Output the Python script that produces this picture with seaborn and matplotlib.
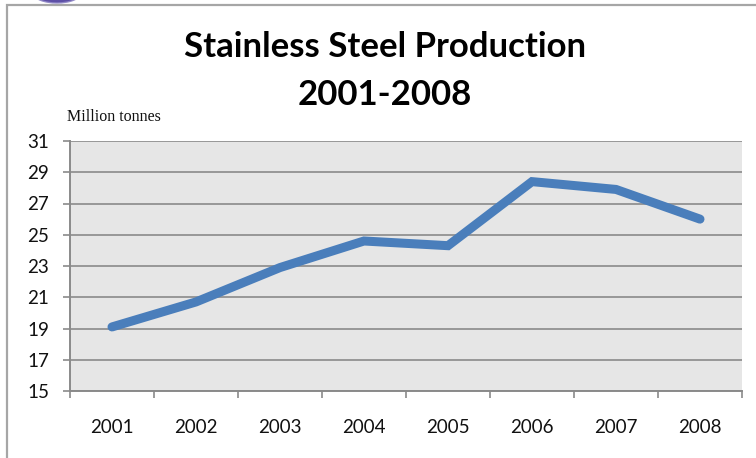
import matplotlib
matplotlib.use("Agg")
import matplotlib.pyplot as plt
from matplotlib.patches import Ellipse, Rectangle
from matplotlib.ticker import FixedLocator
import numpy as np
import pandas as pd
import seaborn as sns

# Annual stainless steel production, million tonnes
years = ["2001", "2002", "2003", "2004", "2005", "2006", "2007", "2008"]
production = [19.1, 20.7, 22.9, 24.6, 24.3, 28.4, 27.9, 26.0]
y_ticks = [15, 17, 19, 21, 23, 25, 27, 29, 31]

title_text = "Stainless Steel Production\n2001-2008"
unit_label = "Million tonnes"

df = pd.DataFrame({"year": years, "production": production})

sns.set_theme(style="white")
plt.rcParams["font.family"] = ["Lato", "DejaVu Sans"]

W, H = 756, 458
fig = plt.figure(figsize=(W / 100, H / 100), dpi=100)
fig.patch.set_facecolor("white")

# chart frame (extends past the right and bottom edges)
fig.add_artist(Rectangle((7 / W, -0.1), 1.2, (H - 5) / H + 0.1, transform=fig.transFigure,
                         fill=False, edgecolor="#a6a6a6", linewidth=1.6))
# decorative arc peeking in at the top
fig.add_artist(Ellipse((57 / W, 1.0 + 6 / H), 46 / W, 18 / H, transform=fig.transFigure,
                       facecolor="#4b3c9c", edgecolor="#8f86c6", linewidth=1.0, alpha=0.9))

ax = fig.add_axes([70 / W, (H - 391) / H, (742 - 70) / W, (391 - 141) / H])
ax.set_facecolor("#e6e6e6")

sns.lineplot(data=df, x="year", y="production", ax=ax, color="#4a7ebb",
             linewidth=6.5, solid_capstyle="round", solid_joinstyle="miter", sort=False)

ax.set_xlim(-0.5, len(years) - 0.5)
ax.set_ylim(15, 31)
ax.set_yticks(y_ticks)
ax.set_yticklabels([str(t) for t in y_ticks])
ax.yaxis.grid(True, color="#8a8a8a", linewidth=1.2)
ax.xaxis.grid(False)
ax.set_axisbelow(True)

# category labels centred, tick marks on the category boundaries
ax.set_xticks(range(len(years)))
ax.set_xticklabels(years)
ax.xaxis.set_minor_locator(FixedLocator(np.arange(-0.5, len(years), 1.0)))
ax.tick_params(axis="x", which="major", length=0, pad=20, labelsize=13.5, labelcolor="#111111")
ax.tick_params(axis="x", which="minor", length=5, width=1.2, color="#8a8a8a", direction="out")
ax.tick_params(axis="y", which="major", length=5, width=1.2, color="#8a8a8a", direction="out",
               pad=10, labelsize=13.5, labelcolor="#111111")
ax.tick_params(bottom=True, left=True, which="both")

for side in ["top", "right"]:
    ax.spines[side].set_visible(False)
for side in ["left", "bottom"]:
    ax.spines[side].set_color("#8a8a8a")
    ax.spines[side].set_linewidth(1.4)

ax.set_xlabel("")
ax.set_ylabel("")

fig.text(385 / W, 1 - 71 / H, title_text, ha="center", va="center", fontsize=25,
         fontweight="bold", color="#000000", linespacing=1.6)
fig.text(67 / W, 1 - 117 / H, unit_label, ha="left", va="center", fontsize=11.5,
         family="Liberation Serif", color="#111111")

fig.savefig("out.png", dpi=100)
